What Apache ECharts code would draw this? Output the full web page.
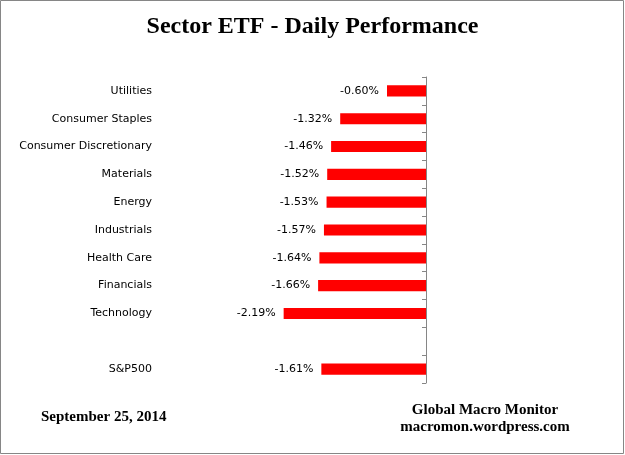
<!DOCTYPE html>
<html>
<head>
<meta charset="utf-8">
<script src="https://cdn.jsdelivr.net/npm/echarts@6/dist/echarts.min.js"></script>
<style>
html,body{margin:0;padding:0;background:#fff;}
#c{width:625px;height:455px;}
</style>
</head>
<body>
<div id="c"></div>
<script>
const categories = ['Utilities','Consumer Staples','Consumer Discretionary','Materials','Energy','Industrials','Health Care','Financials','Technology','','S&P500'];
const values = [-0.60,-1.32,-1.46,-1.52,-1.53,-1.57,-1.64,-1.66,-2.19,null,-1.61];

const chart = echarts.init(document.getElementById('c'));
const lblFont = {fontFamily:'DejaVu Sans', fontSize:11, color:'#000'};
chart.setOption({
  animation:false,
  backgroundColor:'#fff',
  title:[
    {text:'Sector ETF - Daily Performance', left:'center', top:10,
     textStyle:{fontFamily:'Liberation Serif', fontWeight:'bold', fontSize:24, color:'#000'}},
    {text:'September 25, 2014', left:36, top:405,
     textStyle:{fontFamily:'Liberation Serif', fontWeight:'bold', fontSize:15, color:'#000'}},
    {text:'Global Macro Monitor\nmacromon.wordpress.com', left:480, top:397, textAlign:'center',
     textStyle:{fontFamily:'Liberation Serif', fontWeight:'bold', fontSize:15, color:'#000', lineHeight:17, align:'center'}}
  ],
  graphic:[{type:'rect', shape:{x:0.5,y:0.5,width:623,height:453}, style:{fill:null, stroke:'#868686', lineWidth:1}, silent:true}],
  grid:{left:166, right:199, top:77, bottom:72, containLabel:false},
  xAxis:{type:'value', min:-4, max:0, show:false},
  yAxis:[
    {type:'category', data:categories, inverse:true, position:'left',
     axisLine:{show:false}, axisTick:{show:false},
     axisLabel:Object.assign({margin:14}, lblFont)},
    {type:'category', data:categories, inverse:true, position:'right',
     axisLine:{show:true, lineStyle:{color:'#868686'}},
     axisTick:{show:true, inside:true, length:4, lineStyle:{color:'#868686'}},
     axisLabel:{show:false}}
  ],
  series:[{
    type:'bar', yAxisIndex:0, data:values, barWidth:'40%',
    itemStyle:{color:'#FF0000'},
    label:Object.assign({show:true, position:'left', distance:8,
      formatter:p => p.value.toFixed(2)+'%'}, lblFont)
  }]
});
</script>
</body>
</html>
